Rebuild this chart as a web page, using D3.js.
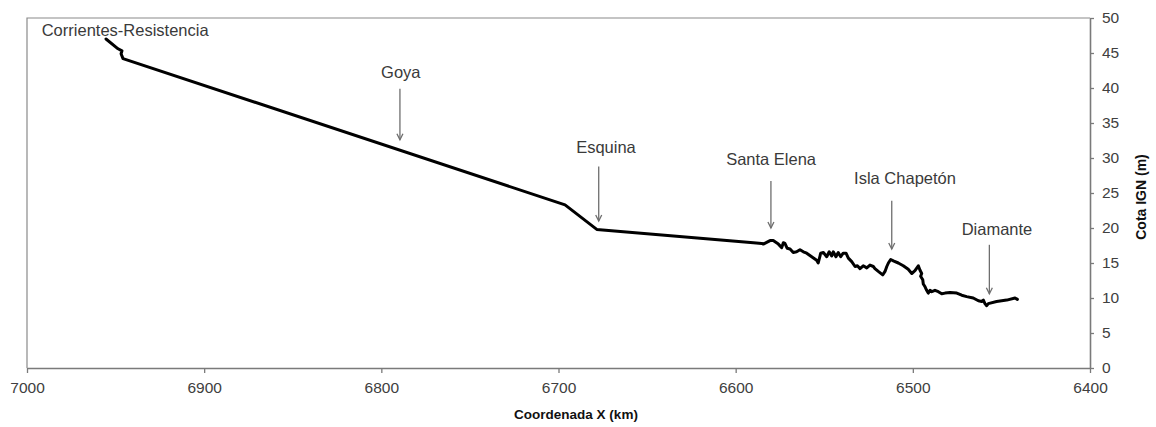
<!DOCTYPE html>
<html>
<head>
<meta charset="utf-8">
<script src="https://cdn.jsdelivr.net/npm/d3@7"></script>
<style>
body { margin: 0; background: #fff; }
text { font-family: Arial, "Liberation Sans", sans-serif; }
</style>
</head>
<body>
<svg id="svg"></svg>
<script>
// perfil longitudinal: coordenada X (km) vs cota IGN (m)
var coordX = [6955.4, 6948.6, 6946.4, 6946.9, 6945.8, 6696.3, 6678.4, 6590.0, 6585.3, 6584.4,
	6580.6, 6578.8, 6575.9, 6574.0, 6573.1, 6572.2, 6570.9, 6569.3, 6567.5, 6565.6,
	6563.7, 6561.8, 6559.9, 6557.1, 6554.3, 6553.4, 6552.0, 6550.5, 6548.6, 6547.2,
	6545.8, 6544.9, 6543.4, 6542.1, 6540.7, 6539.3, 6537.7, 6536.4, 6534.5, 6532.6,
	6531.3, 6529.8, 6528.0, 6526.0, 6524.2, 6522.3, 6521.4, 6519.5, 6517.0, 6515.7,
	6514.7, 6513.8, 6512.5, 6511.0, 6508.2, 6505.4, 6502.6, 6500.6, 6498.8, 6496.9,
	6496.0, 6495.0, 6495.6, 6494.4, 6494.1, 6493.1, 6492.2, 6491.3, 6490.3, 6489.3,
	6487.5, 6485.6, 6483.7, 6481.8, 6479.0, 6475.2, 6472.4, 6469.6, 6465.9, 6463.0,
	6461.1, 6460.2, 6459.3, 6458.3, 6457.4, 6452.7, 6447.0, 6442.3, 6441.0];
var cota = [47.0, 45.6, 45.3, 44.9, 44.2, 23.3, 19.8, 17.9, 17.8, 17.7,
	18.2, 18.2, 17.7, 17.2, 17.9, 17.8, 17.1, 17.0, 16.5, 16.6,
	16.9, 16.6, 16.4, 15.9, 15.4, 15.0, 16.4, 16.5, 15.9, 16.6,
	16.0, 16.6, 15.9, 16.5, 15.9, 16.4, 16.4, 15.7, 15.2, 14.5,
	14.6, 14.2, 14.6, 14.3, 14.7, 14.5, 14.2, 13.8, 13.3, 13.8,
	14.5, 15.0, 15.5, 15.3, 15.0, 14.6, 14.1, 13.5, 13.9, 14.6,
	14.0, 13.5, 13.1, 12.6, 12.0, 11.6, 11.1, 10.7, 11.1, 10.9,
	11.1, 10.9, 10.6, 10.7, 10.8, 10.7, 10.4, 10.2, 10.0, 9.6,
	9.5, 9.7, 9.2, 8.9, 9.2, 9.5, 9.7, 10.0, 9.8];

var xTicks = [7000, 6900, 6800, 6700, 6600, 6500, 6400];
var yTicks = [0, 5, 10, 15, 20, 25, 30, 35, 40, 45, 50];

// anotaciones (en unidades de los ejes)
var annotNames = ["Goya", "Esquina", "Santa Elena", "Isla Chapetón", "Diamante"];
var annotX = [6789.5, 6677.3, 6580.1, 6511.9, 6456.8];
var annotTail = [39.9, 28.8, 26.7, 23.9, 17.6];
var annotTip = [32.6, 21.0, 20.0, 17.0, 10.6];
var annotLabelX = [6789.0, 6673.2, 6580.0, 6504.4, 6452.5];
var annotLabelY = [41.4, 30.7, 29.0, 26.3, 19.0];
var startName = "Corrientes-Resistencia";
var startLabelX = 6991.7;
var startLabelY = 47.5;

var margin = {top: 18, right: 66, bottom: 59, left: 27};
var width = 1156 - margin.left - margin.right;
var height = 427 - margin.top - margin.bottom;

var svg = d3.select("#svg")
	.attr("width", width + margin.left + margin.right)
	.attr("height", height + margin.top + margin.bottom);

var g = svg.append("g").attr("transform", `translate(${margin.left}, ${margin.top})`);

var xScale = d3.scaleLinear().domain([7000, 6400]).range([0, width]);
var yScale = d3.scaleLinear().domain([0, 50]).range([height, 0]);

// marco del area de trazado
g.append("path")
	.attr("d", `M0,${height}V0H${width}`)
	.attr("fill", "none")
	.attr("stroke", "#8a8a8a")
	.attr("stroke-width", 1.2);

var xAxis = g.append("g")
	.attr("transform", `translate(0, ${height})`)
	.call(d3.axisBottom(xScale).tickValues(xTicks).tickFormat(d3.format("d")).tickSize(5).tickPadding(9).tickSizeOuter(0));

var yAxis = g.append("g")
	.attr("transform", `translate(${width}, 0)`)
	.call(d3.axisRight(yScale).tickValues(yTicks).tickSize(4).tickPadding(8).tickSizeOuter(0));

[xAxis, yAxis].forEach(a => {
	a.select(".domain").attr("stroke", "#7a7a7a").attr("stroke-width", 1.6);
	a.selectAll(".tick line").attr("stroke", "#7a7a7a").attr("stroke-width", 1.3);
	a.selectAll(".tick text").attr("fill", "#404040").style("font-size", "15.5px");
});

svg.append("text")
	.attr("x", 576)
	.attr("y", 419)
	.attr("text-anchor", "middle")
	.style("font-size", "13.5px")
	.style("font-weight", "bold")
	.attr("fill", "#111")
	.text("Coordenada X (km)");

svg.append("text")
	.attr("transform", `translate(1146, ${margin.top + height / 2 + 4}) rotate(-90)`)
	.attr("text-anchor", "middle")
	.style("font-size", "14px")
	.style("font-weight", "bold")
	.attr("fill", "#111")
	.text("Cota IGN (m)");

// linea del perfil
var perfil = coordX.map((d, i) => ({x: d, y: cota[i]}));
g.append("path")
	.datum(perfil)
	.attr("fill", "none")
	.attr("stroke", "#000")
	.attr("stroke-width", 3)
	.attr("stroke-linejoin", "round")
	.attr("stroke-linecap", "round")
	.attr("d", d3.line().x(d => xScale(d.x)).y(d => yScale(d.y)));

// flechas y nombres
annotNames.forEach((name, i) => {
	var ax = xScale(annotX[i]);
	var y0 = yScale(annotTail[i]);
	var y1 = yScale(annotTip[i]);
	g.append("line")
		.attr("x1", ax).attr("x2", ax)
		.attr("y1", y0).attr("y2", y1)
		.attr("stroke", "#6e6e6e")
		.attr("stroke-width", 1.3);
	g.append("path")
		.attr("d", `M${ax - 3},${y1 - 6}L${ax},${y1}L${ax + 3},${y1 - 6}`)
		.attr("fill", "none")
		.attr("stroke", "#6e6e6e")
		.attr("stroke-width", 1.3);
	g.append("text")
		.attr("x", xScale(annotLabelX[i]))
		.attr("y", yScale(annotLabelY[i]))
		.attr("text-anchor", "middle")
		.style("font-size", "16.5px")
		.attr("fill", "#3a3a3a")
		.text(name);
});

g.append("text")
	.attr("x", xScale(startLabelX))
	.attr("y", yScale(startLabelY))
	.style("font-size", "16.5px")
	.attr("fill", "#3a3a3a")
	.text(startName);
</script>
</body>
</html>
